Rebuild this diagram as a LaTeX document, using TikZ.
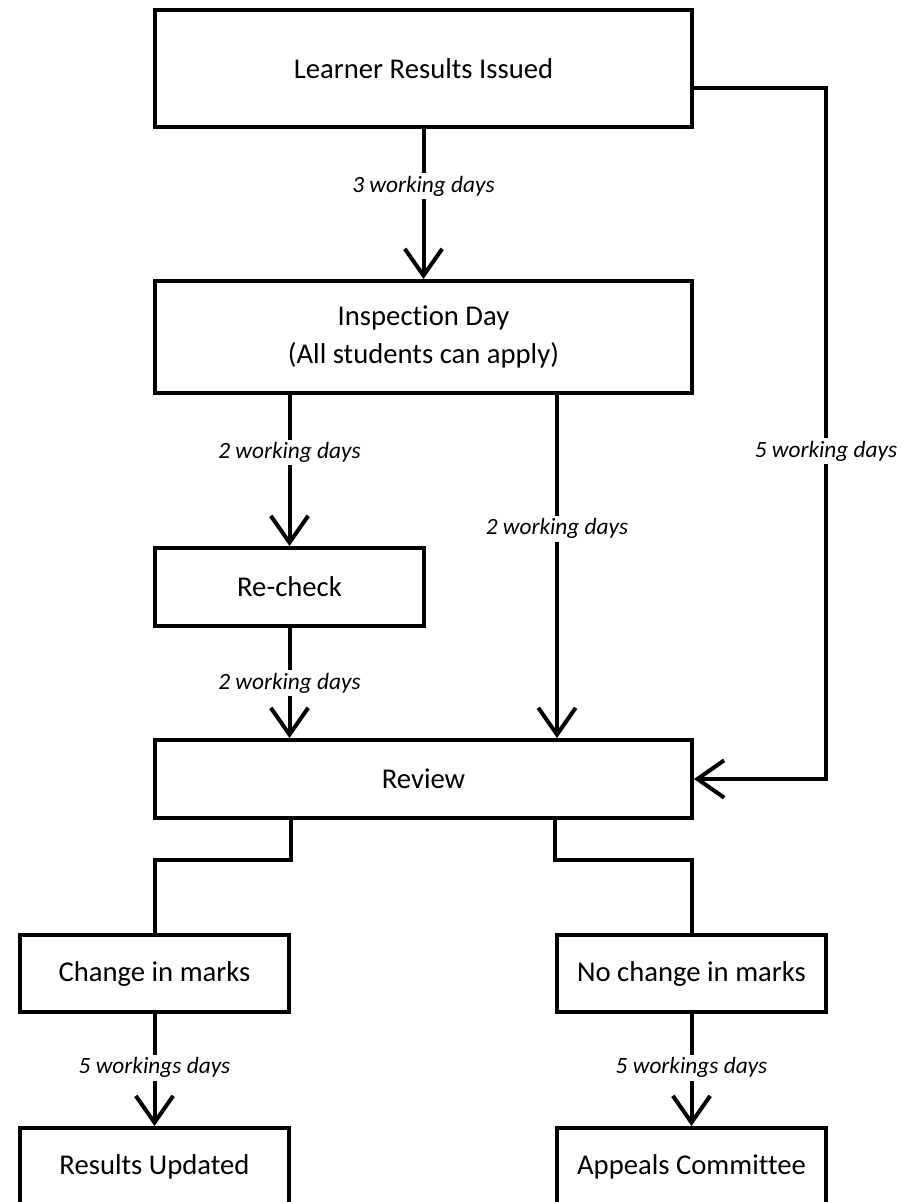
\documentclass[tikz,border=0pt]{standalone}
\usepackage{fontspec}
\setmainfont{Carlito}[Ligatures={NoCommon}]
\usetikzlibrary{arrows.meta,calc}
\begin{document}
\begin{tikzpicture}[x=0.75pt,y=-0.75pt,
  box/.style={draw,line width=3pt,rectangle,inner sep=0pt,font=\fontsize{21.5}{26}\selectfont,align=center},
  big/.style={box,minimum width=402.75pt},
  small/.style={box,minimum width=201.75pt},
  conn/.style={line width=3pt},
  arr/.style={conn,-{Straight Barb[length=20pt,width=28pt,line width=3pt]}},
  lab/.style={fill=white,inner sep=2pt,font=\fontsize{17.5}{21}\selectfont\itshape}]
\useasboundingbox (0,0) rectangle (903,1202);
\clip (0,0) rectangle (903,1202);
\node[big,minimum height=87.75pt] (lri) at (423.5,68.5) {Learner Results Issued};
\node[big,minimum height=84pt] (insp) at (423.5,337) {Inspection Day\\[3pt](All students can apply)};
\node[small,minimum height=58.5pt] (rc) at (289.5,587) {Re-check};
\node[big,minimum height=58.5pt] (rev) at (423.5,779) {Review};
\node[small,minimum height=57.75pt] (chg) at (154.5,973.5) {Change in marks};
\node[small,minimum height=57.75pt] (noc) at (691.5,973.5) {No change in marks};
\node[small,minimum height=58.5pt] (upd) at (154.5,1167) {Results Updated};
\node[small,minimum height=58.5pt] (app) at (691.5,1167) {Appeals Committee};
\coordinate (rt) at (826,88);
\coordinate (mid) at (557,392);

\draw[arr] (lri.south) -- (insp.north) node[lab,pos=0.38] {3 working days};
\draw[arr] (insp.south -| rc.north) -- (rc.north) node[lab,pos=0.38] {2 working days};
\draw[arr] (insp.south -| mid) -- (rev.north -| mid) node[lab,pos=0.39] {2 working days};
\draw[arr] (rc.south) -- (rev.north -| rc.north) node[lab,pos=0.5] {2 working days};
\draw[arr] (lri.east |- rt) -- (rt) |- (rev.east);
\node[lab] (five) at (826,451) {5 working days};
\draw[conn] (rev.south -| chg.east) -- ++(0,40) -| (chg.north);
\draw[conn] (rev.south -| noc.west) -- ++(0,40) -| (noc.north);
\draw[arr] (chg.south) -- (upd.north) node[lab,pos=0.48] {5 workings days};
\draw[arr] (noc.south) -- (app.north) node[lab,pos=0.48] {5 workings days};
\end{tikzpicture}
\end{document}
